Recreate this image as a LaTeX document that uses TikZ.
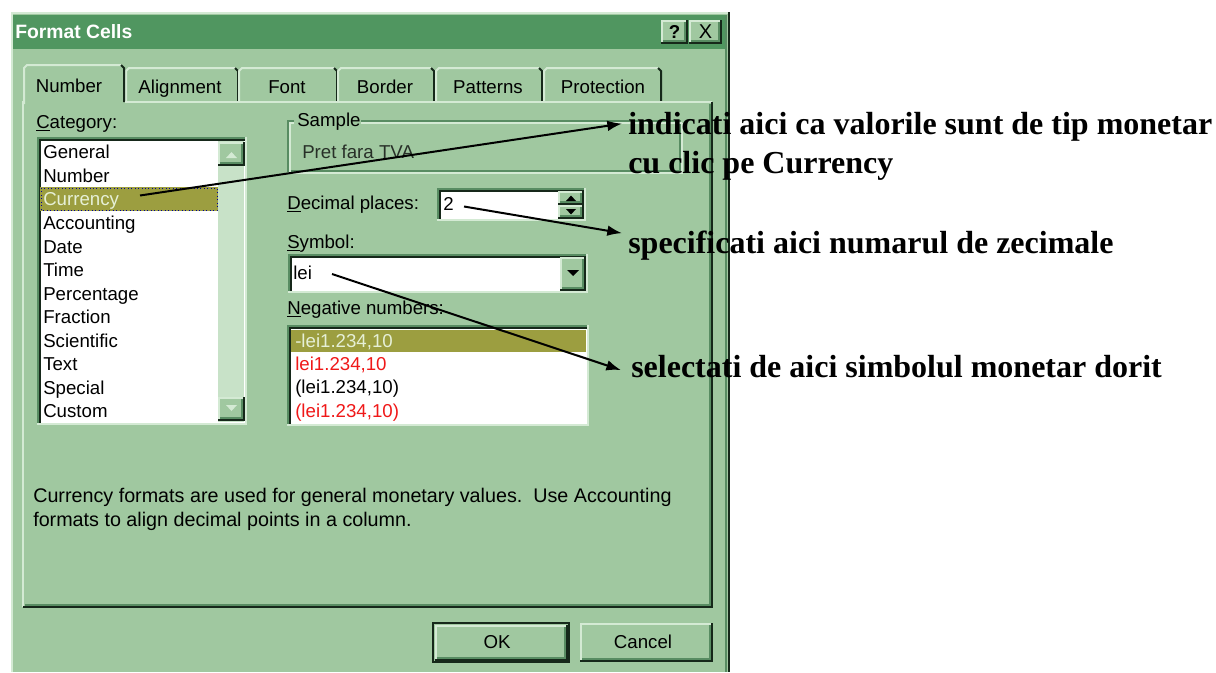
\documentclass[tikz,border=0pt]{standalone}
\usepackage{fontspec}
\setmainfont{Liberation Serif}
\newfontfamily\uifont{Liberation Sans}
\newfontfamily\notefont{Liberation Serif}
\usetikzlibrary{arrows.meta}

\definecolor{dlgbg}{RGB}{160,200,160}
\definecolor{trackbg}{RGB}{200,226,200}
\definecolor{titlebar}{RGB}{80,150,96}
\definecolor{hilite}{RGB}{156,158,64}
\definecolor{hitext}{RGB}{230,240,215}
\definecolor{edgelight}{RGB}{212,234,212}
\definecolor{edgemid}{RGB}{88,140,98}
\definecolor{edgedark}{RGB}{22,40,26}
\definecolor{numred}{RGB}{240,24,24}
\definecolor{sampletext}{RGB}{40,48,40}

% raised 3D box: x1,y1,x2,y2 (pixels, y downwards)
\newcommand\RaisedBox[4]{%
  \fill[dlgbg] (#1,#2) rectangle (#3,#4);
  \draw[edgelight,line width=1.5pt] (#1+1,#4) -- (#1+1,#2+1) -- (#3,#2+1);
  \draw[edgedark,line width=1.5pt] (#1,#4-1) -- (#3-1,#4-1) -- (#3-1,#2);
  \draw[edgemid,line width=1.5pt] (#1+2,#4-3) -- (#3-3,#4-3) -- (#3-3,#2+2);
}
% sunken 3D field: x1,y1,x2,y2,fill
\newcommand\SunkenBox[5]{%
  \fill[#5] (#1,#2) rectangle (#3,#4);
  \draw[edgemid,line width=1.5pt] (#1+1,#4) -- (#1+1,#2+1) -- (#3,#2+1);
  \draw[edgedark,line width=1.5pt] (#1+3,#4-2) -- (#1+3,#2+3) -- (#3-2,#2+3);
  \draw[edgelight,line width=1.5pt] (#1,#4-1) -- (#3-1,#4-1) -- (#3-1,#2);
}
% unselected tab: x1,x2
\newcommand\TabShape[2]{%
  \draw[edgelight,line width=1.5pt] (#1,102) -- (#1,71) -- (#1+3,68) -- (#2-3,68);
  \draw[edgedark,line width=1.5pt] (#2-3,68) -- (#2,71) -- (#2,102);
}

\begin{document}
\begin{tikzpicture}[x=0.75pt,y=-0.75pt,
  ui/.style={font=\uifont\fontsize{14}{16}\selectfont, inner sep=0pt, anchor=west, text=black,
             text height=10pt, text depth=3pt, yshift=-1.5pt},
  tabtext/.style={ui, anchor=center},
  note/.style={font=\notefont\bfseries\fontsize{24}{28}\selectfont, inner sep=0pt, anchor=base west},
  pointer/.style={line width=1.5pt, -{Latex[length=11pt,width=8pt]}},
]
\useasboundingbox (0,0) rectangle (1216,672);
\fill[white] (0,0) rectangle (1216,672);

% dialog frame
\fill[dlgbg] (11,12) rectangle (729,672);
\draw[edgelight,line width=1.5pt] (12,672) -- (12,13) -- (728,13);
\draw[edgedark,line width=1.5pt] (729,12) -- (729,672);
\draw[edgemid,line width=1.5pt] (726,15) -- (726,672);

% title bar
\fill[titlebar] (13,15) rectangle (725,49);
\node[font=\uifont\bfseries\fontsize{14.5}{16}\selectfont, text=white, anchor=west, inner sep=0pt] (title) at (15,32) {Format Cells};
\RaisedBox{661}{20}{688}{44}
\RaisedBox{689}{20}{722}{44}
\node[font=\uifont\bfseries\fontsize{14}{16}\selectfont, inner sep=0pt] (help) at (674.5,32) {?};
\node[font=\uifont\fontsize{15}{16}\selectfont, inner sep=0pt] (close) at (705.5,32) {X};

% tabs
\TabShape{126}{238}
\TabShape{239}{337}
\TabShape{338}{434}
\TabShape{436}{542}
\TabShape{544}{661}
\fill[dlgbg] (24,66) rectangle (124,104);
\draw[edgelight,line width=1.5pt] (24,104) -- (24,68) -- (27,65) -- (121,65);
\draw[edgedark,line width=1.5pt] (121,65) -- (124,68) -- (124,102);
\node[tabtext] (tabnum) at (69,86) {Number};
\node[tabtext] (tabali) at (180,87) {Alignment};
\node[tabtext] (tabfont) at (287,87) {Font};
\node[tabtext] (tabbord) at (385,87) {Border};
\node[tabtext] (tabpat) at (488,87) {Patterns};
\node[tabtext] (tabprot) at (603,87) {Protection};

% page panel
\draw[edgelight,line width=1.5pt] (23,607) -- (23,102) -- (24,102);
\draw[edgelight,line width=1.5pt] (125,102) -- (712,102);
\draw[edgedark,line width=1.5pt] (23,607) -- (712,607) -- (712,102);
\draw[edgemid,line width=1.5pt] (25,605) -- (710,605) -- (710,104);

% category list
\node[ui] (catlbl) at (36,122) {\underline{C}ategory:};
\SunkenBox{37}{137}{247}{425}{white}
\fill[trackbg] (218,141) rectangle (244,422);
\RaisedBox{218}{142}{245}{166}
\RaisedBox{218}{397}{245}{421}
\fill[edgelight] (226,158) -- (237,158) -- (231.5,152) -- cycle;
\fill[edgelight] (226,405) -- (237,405) -- (231.5,411) -- cycle;
\fill[hilite] (40,187) rectangle (218,211);
\draw[blue!60!black,dotted,line width=0.6pt] (41,188) rectangle (217,210);
\node[ui] (general) at (43,152) {General};
\node[ui] (number) at (43,176) {Number};
\node[ui,text=hitext] (currency) at (43,199) {Currency};
\node[ui] (accounting) at (43,223) {Accounting};
\node[ui] (date) at (43,246.5) {Date};
\node[ui] (time) at (43,270) {Time};
\node[ui] (percentage) at (43,293.5) {Percentage};
\node[ui] (fraction) at (43,317) {Fraction};
\node[ui] (scientific) at (43,340.5) {Scientific};
\node[ui] (text) at (43,364) {Text};
\node[ui] (special) at (43,387.5) {Special};
\node[ui] (custom) at (43,411) {Custom};

% sample group
\draw[edgemid,line width=1.2pt] (294,121) -- (288,121) -- (288,171) -- (680,171) -- (680,121) -- (361,121);
\draw[edgelight,line width=1.2pt] (294,123) -- (290,123) -- (290,173) -- (682,173) -- (682,123);
\draw[edgelight,line width=1.2pt] (682,123) -- (361,123);
\node[ui] (samplelbl) at (297,120) {Sample};
\node[ui,text=sampletext] (sample) at (302,152) {Pret fara TVA};

% decimal places
\node[ui] (declbl) at (287,203) {\underline{D}ecimal places:};
\SunkenBox{437}{188}{586}{221}{white}
\RaisedBox{558}{191}{584}{205}
\RaisedBox{558}{205}{584}{219}
\fill (566,201) -- (576,201) -- (571,195.5) -- cycle;
\fill (566,209) -- (576,209) -- (571,214.5) -- cycle;
\node[ui] (decval) at (443,204) {2};

% symbol
\node[ui] (symlbl) at (287,242) {\underline{S}ymbol:};
\SunkenBox{288}{254}{588}{293}{white}
\RaisedBox{560}{257}{586}{291}
\fill (567,270) -- (579,270) -- (573,276) -- cycle;
\node[ui] (symval) at (293,273) {lei};

% negative numbers
\node[ui] (neglbl) at (287,308) {\underline{N}egative numbers:};
\SunkenBox{287}{325}{589}{426}{white}
\fill[hilite] (291,330) rectangle (586,352);
\node[ui,text=hitext] (neg1) at (295,341) {-lei1.234,10};
\node[ui,text=numred] (neg2) at (295,364) {lei1.234,10};
\node[ui] (neg3) at (295,387) {(lei1.234,10)};
\node[ui,text=numred] (neg4) at (295,411) {(lei1.234,10)};

% description
\node[ui,font=\uifont\fontsize{14.8}{16}\selectfont] (desc1) at (33,496) {Currency formats are used for general monetary values.\ \ Use Accounting};
\node[ui,font=\uifont\fontsize{14.8}{16}\selectfont] (desc2) at (33,520) {formats to align decimal points in a column.};

% buttons
\draw[edgedark,line width=1.5pt] (433,623) rectangle (569,662);
\RaisedBox{434.5}{624.5}{567.5}{660.5}
\node[ui,anchor=center] (ok) at (497,642) {OK};
\RaisedBox{580}{623}{713}{662}
\node[ui,anchor=center] (cancel) at (643,642) {Cancel};

% annotations
\node[note] (n1) at (628,134) {indicati aici ca valorile sunt de tip monetar};
\node[note] (n1b) at (628,173) {cu clic pe Currency};
\node[note] (n2) at (628,253) {specificati aici numarul de zecimale};
\node[note] (n3) at (631,377) {selectati de aici simbolul monetar dorit};

\coordinate (s1) at (140,195.5);
\coordinate (s2) at (464,206.5);
\coordinate (s3) at (332,274);
\draw[pointer] (s1) -- ([xshift=-4.5pt,yshift=2pt]n1.west);
\draw[pointer] (s2) -- ([xshift=-4.5pt,yshift=9pt]n2.west);
\draw[pointer] (s3) -- ([xshift=-7.5pt,yshift=-3pt]n3.west);
\end{tikzpicture}
\end{document}
